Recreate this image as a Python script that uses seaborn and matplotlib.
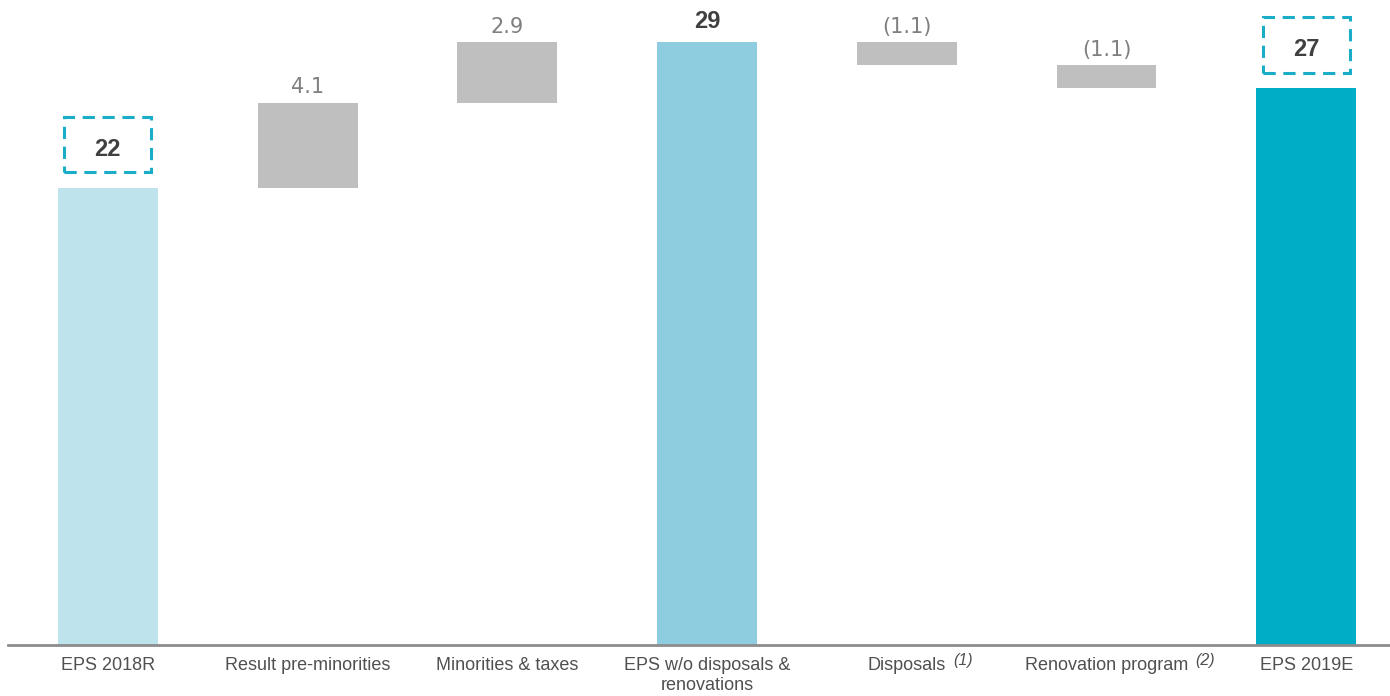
import matplotlib
matplotlib.use("Agg")
import matplotlib.pyplot as plt
from matplotlib.patches import Rectangle
import seaborn as sns

# Data: EPS bridge 2018R -> 2019E
categories = ["EPS 2018R", "Result pre-minorities", "Minorities & taxes",
              "EPS w/o disposals &\nrenovations", "Disposals",
              "Renovation program", "EPS 2019E"]
footnotes = ["", "", "", "", "(1)", "(2)", ""]
changes = [22.0, 4.1, 2.9, 0.0, -1.1, -1.1, 0.0]
is_total = [True, False, False, True, False, False, True]
boxed = [True, False, False, False, False, False, True]
bar_colors = ["#BEE3EC", "#BFBFBF", "#BFBFBF", "#8DCDDF", "#BFBFBF", "#BFBFBF", "#00ADC7"]

# running totals -> floating bars
level = 0.0
bottoms, heights = [], []
for c, tot in zip(changes, is_total):
    if tot:
        level += c
        bottoms.append(0.0)
        heights.append(level)
    else:
        bottoms.append(min(level, level + c))
        heights.append(abs(c))
        level += c

sns.set_style("white")
plt.rcParams['font.family'] = ['Liberation Sans', 'DejaVu Sans']

fig = plt.figure(figsize=(13.9, 6.96), dpi=100)
ax = fig.add_axes([8 / 1390, 51 / 696, 1 - 8 / 1390, 1 - 51 / 696])

sns.barplot(x=categories, y=heights, bottom=bottoms, width=0.5, color="#BFBFBF",
            errorbar=None, linewidth=0, ax=ax)
for p, col in zip(ax.patches, bar_colors):
    p.set_facecolor(col)

for i, (b, h, c, tot, bx) in enumerate(zip(bottoms, heights, changes, is_total, boxed)):
    top = b + h
    if tot:
        lab = f"{h:.0f}"
        if bx:
            ax.add_patch(Rectangle((i - 0.218, top + 0.75), 0.436, 2.65, fill=False,
                                   ec="#1AADC8", lw=2.2, ls=(0, (4, 2.5))))
            ax.text(i, top + 1.85, lab, ha="center", va="center", fontsize=17,
                    fontweight="bold", color="#404040")
        else:
            ax.annotate(lab, (i, top), xytext=(0, 10), textcoords="offset points",
                        ha="center", va="baseline", fontsize=17,
                        fontweight="bold", color="#404040")
    else:
        lab = f"{c:.1f}" if c > 0 else f"({abs(c):.1f})"
        ax.annotate(lab, (i, top), xytext=(0, 7), textcoords="offset points",
                    ha="center", va="baseline", fontsize=15, color="#7F7F7F",
                    family="DejaVu Sans")

ax.set_xlim(-0.5, (1390 - 108) / 199.7)
ax.set_ylim(0, 645 / 20.78)
ax.set_yticks([])
ax.set_ylabel("")
ax.tick_params(axis="x", length=0, pad=9, labelsize=13, labelcolor="#505050")
for s in ["top", "left", "right"]:
    ax.spines[s].set_visible(False)
ax.spines["bottom"].set_color("#8C8C8C")
ax.spines["bottom"].set_linewidth(2)

# italic footnote marks after the tick labels
fig.canvas.draw()
renderer = fig.canvas.get_renderer()
for lbl, note in zip(ax.get_xticklabels(), footnotes):
    if note:
        bb = lbl.get_window_extent(renderer)
        fig.text(bb.x1 + 7, bb.y1 + 4, note, transform=None, ha="left", va="top",
                 fontsize=11.5, style="italic", color="#505050")

fig.savefig("out.png", dpi=100)
